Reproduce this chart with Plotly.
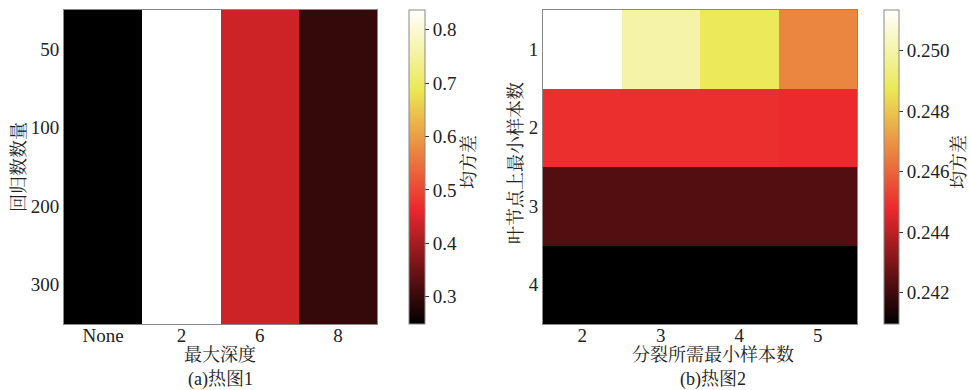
import plotly.graph_objects as go

# Panel (a): max depth vs number of estimators
depth_labels = ["None", "2", "6", "8"]
estimator_labels = ["50", "100", "200", "300"]
mse_depth = [
    [0.249, 0.837, 0.436, 0.297],
    [0.249, 0.837, 0.436, 0.297],
    [0.249, 0.837, 0.436, 0.297],
    [0.249, 0.837, 0.436, 0.297],
]
cbar_a_ticks = [0.3, 0.4, 0.5, 0.6, 0.7, 0.8]

# Panel (b): min samples split vs min samples leaf
split_labels = ["2", "3", "4", "5"]
leaf_labels = ["1", "2", "3", "4"]
mse_leaf = [
    [0.25135, 0.2500, 0.2488, 0.2467],
    [0.2449, 0.2449, 0.2449, 0.2448],
    [0.2423, 0.2423, 0.2423, 0.2423],
    [0.24097, 0.24097, 0.24097, 0.24097],
]
cbar_b_ticks = [0.242, 0.244, 0.246, 0.248, 0.250]

# "hot"-style colormap (black -> red -> yellow -> white)
hot = [
    [0.0, "rgb(0,0,0)"],
    [0.365, "rgb(235,40,45)"],
    [0.746, "rgb(235,232,85)"],
    [1.0, "rgb(255,255,255)"],
]

FONT = "Liberation Serif, Noto Serif CJK SC, Noto Sans CJK SC, serif"
W, H = 970, 390
TICK_SIZE = 19
TEXT_SIZE = 18

def px(x):
    return x / W

def py(y):
    return 1 - y / H

def colorbar(x0, thick, ticks, fmt):
    return dict(
        x=px(x0), xanchor="left", xpad=0, ypad=0,
        y=py(167), yanchor="middle",
        len=314 / H, lenmode="fraction", thickness=thick, thicknessmode="pixels",
        outlinecolor="#888", outlinewidth=1,
        tickvals=ticks, ticktext=[fmt.format(v) for v in ticks],
        ticks="outside", ticklen=4, tickcolor="#333",
        tickfont=dict(family=FONT, size=TICK_SIZE, color="#222"),
    )

fig = go.Figure()

fig.add_trace(go.Heatmap(
    x=depth_labels, y=estimator_labels, z=mse_depth,
    colorscale=hot, zmin=0.249, zmax=0.837,
    xaxis="x", yaxis="y",
    colorbar=colorbar(409, 16, cbar_a_ticks, "{:.1f}"),
))

fig.add_trace(go.Heatmap(
    x=split_labels, y=leaf_labels, z=mse_leaf,
    colorscale=hot, zmin=0.24097, zmax=0.25135,
    xaxis="x2", yaxis="y2",
    colorbar=colorbar(884, 15, cbar_b_ticks, "{:.3f}"),
))

axis_common = dict(
    type="category", showline=True, mirror=True, linecolor="#888", linewidth=1,
    showgrid=False, zeroline=False, ticks="",
    tickfont=dict(family=FONT, size=TICK_SIZE, color="#222"),
)
x_common = dict(axis_common, ticklabelstandoff=-6)

fig.update_layout(
    width=W, height=H,
    margin=dict(l=0, r=0, t=0, b=0),
    paper_bgcolor="white", plot_bgcolor="white",
    font=dict(family=FONT, size=TEXT_SIZE, color="#222"),
    xaxis=dict(domain=[px(64), px(377)], anchor="y", **x_common),
    yaxis=dict(domain=[py(324), py(10)], anchor="x", autorange="reversed", **axis_common),
    xaxis2=dict(domain=[px(543), px(857)], anchor="y2", **x_common),
    yaxis2=dict(domain=[py(324), py(10)], anchor="x2", autorange="reversed", **axis_common),
)

annotations = [
    dict(text="最大深度", x=px(220), y=py(355)),
    dict(text="(a)热图1", x=px(220), y=py(379)),
    dict(text="分裂所需最小样本数", x=px(713), y=py(355)),
    dict(text="(b)热图2", x=px(713), y=py(379)),
    dict(text="回归数数量", x=px(19), y=py(167), textangle=-90),
    dict(text="叶节点上最小样本数", x=px(516), y=py(163), textangle=-90),
    dict(text="均方差", x=px(469), y=py(162), textangle=-90),
    dict(text="均方差", x=px(959), y=py(162), textangle=-90),
]
for a in annotations:
    fig.add_annotation(
        xref="paper", yref="paper", xanchor="center", yanchor="middle",
        showarrow=False, font=dict(family=FONT, size=TEXT_SIZE, color="#222"), **a
    )

fig.write_html("out.html")
